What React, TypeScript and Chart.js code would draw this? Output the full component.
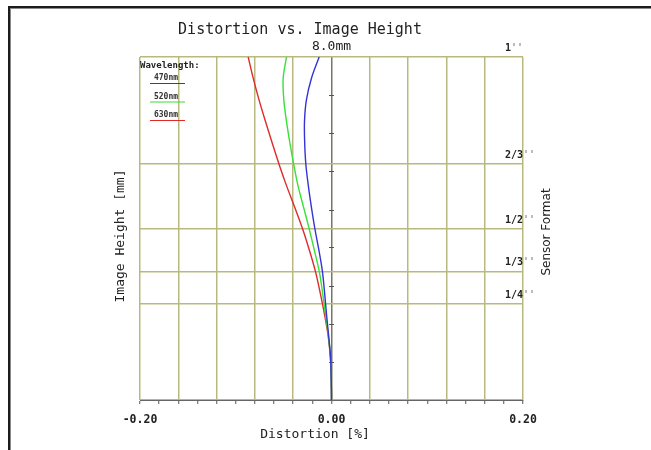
import React, { useEffect, useRef } from "react";
import { Chart, registerables } from "chart.js";

Chart.register(...registerables);

// Image height (mm) samples
const heights = [0, 0.5, 1, 1.5, 2, 2.5, 3, 3.5, 4, 4.5, 5, 5.5, 6, 6.5, 7, 7.5, 8];
// Distortion (%) per wavelength
const dist470 = [0, -0.0003, -0.001, -0.003, -0.0052, -0.0072, -0.0095, -0.0132, -0.0174, -0.021, -0.0242, -0.0268, -0.028, -0.0282, -0.0262, -0.021, -0.0129];
const dist520 = [0, -0.0003, -0.0011, -0.0033, -0.0063, -0.0093, -0.0128, -0.018, -0.0234, -0.0292, -0.035, -0.0395, -0.0435, -0.047, -0.0498, -0.0505, -0.047];
const dist630 = [0, -0.0003, -0.0012, -0.0035, -0.0073, -0.0118, -0.0168, -0.0232, -0.0303, -0.0385, -0.047, -0.0548, -0.062, -0.069, -0.0757, -0.0817, -0.087];

const seriesLabels = ["470nm", "520nm", "630nm"];
const seriesColors = ["#3434d6", "#38e038", "#e02a2a"];

// X axis ticks (every 0.02) and labelled ticks
const xTicks = [-0.2, -0.18, -0.16, -0.14, -0.12, -0.1, -0.08, -0.06, -0.04, -0.02, 0, 0.02, 0.04, 0.06, 0.08, 0.1, 0.12, 0.14, 0.16, 0.18, 0.2];
const xLabelled = [-0.2, 0, 0.2];

// Sensor formats (half diagonal in mm)
const sensorHeights = [0, 2.25, 3, 4, 5.5, 8];
const sensorLabels = ["", "1/4''", "1/3''", "1/2''", "2/3''", "1''"];

// small tick marks on the centre axis (mm)
const centerTicks = [0.89, 1.78, 2.67, 3.56, 4.44, 5.33, 6.22, 7.11];

const MONO = '"DejaVu Sans Mono", monospace';
const SANS = '"DejaVu Sans", sans-serif';
const OLIVE = "#b9b97f";

const decor = {
  id: "decor",
  beforeDatasetsDraw(chart: any) {
    const { ctx } = chart;
    const xs = chart.scales.x;
    const ys = chart.scales.y;
    const x0 = xs.getPixelForValue(0);
    ctx.save();
    ctx.strokeStyle = "#555";
    ctx.lineWidth = 1;
    centerTicks.forEach((v) => {
      const py = Math.round(ys.getPixelForValue(v)) + 0.5;
      ctx.beginPath();
      ctx.moveTo(x0 - 2.5, py);
      ctx.lineTo(x0 + 2.5, py);
      ctx.stroke();
    });
    ctx.restore();
  },
  afterDraw(chart: any) {
    const { ctx } = chart;
    const xs = chart.scales.x;
    const ys = chart.scales.y;
    ctx.save();
    ctx.fillStyle = "#222";
    ctx.textAlign = "center";
    ctx.textBaseline = "middle";

    // Title
    ctx.font = `15px ${MONO}`;
    ctx.fillText("Distortion vs. Image Height", 300, 30);

    // max height
    ctx.font = `13px ${MONO}`;
    ctx.fillText(ys.max.toFixed(1) + "mm", xs.getPixelForValue(0), 47);

    // axis titles
    ctx.fillText("Distortion [%]", 315, 435);
    ctx.save();
    ctx.translate(121, 236);
    ctx.rotate(-Math.PI / 2);
    ctx.fillText("Image Height [mm]", 0, 0);
    ctx.restore();

    ctx.save();
    ctx.font = `12px ${SANS}`;
    ctx.translate(547, 232);
    ctx.rotate(-Math.PI / 2);
    ctx.fillText("Sensor Format", 0, 0);
    ctx.restore();

    // sensor labels
    ctx.font = `bold 10px ${MONO}`;
    ctx.textAlign = "left";
    sensorLabels.forEach((lab, i) => {
      if (!lab) return;
      const py = ys.getPixelForValue(sensorHeights[i]) - 8.5;
      const k = lab.indexOf("'");
      const main = lab.slice(0, k);
      const rest = lab.slice(k);
      ctx.fillStyle = "#222";
      ctx.fillText(main, 505, py);
      const w = ctx.measureText(main).width;
      ctx.fillStyle = "#999";
      ctx.fillText(rest, 505 + w, py);
    });

    // legend
    ctx.fillStyle = "#222";
    ctx.font = `bold 9px ${MONO}`;
    ctx.fillText("Wavelength:", 140, 66);
    ctx.font = `bold 8px ${MONO}`;
    ctx.textAlign = "center";
    seriesLabels.forEach((lab, i) => {
      const cy = 78 + i * 18.5;
      ctx.fillStyle = "#333";
      ctx.fillText(lab, 166, cy);
      ctx.strokeStyle = seriesColors[i];
      ctx.lineWidth = 1.2;
      ctx.beginPath();
      ctx.moveTo(150, cy + 5.5);
      ctx.lineTo(185, cy + 5.5);
      ctx.stroke();
    });
    ctx.restore();
  },
};

export default function App() {
  const ref = useRef<HTMLCanvasElement | null>(null);
  useEffect(() => {
    if (!ref.current) return;
    const series = [dist470, dist520, dist630];
    const chart = new Chart(ref.current, {
      type: "scatter",
      data: {
        datasets: series.map((s, i) => ({
          label: seriesLabels[i],
          data: s.map((d, j) => ({ x: d, y: heights[j] })),
          showLine: true,
          borderColor: seriesColors[i],
          backgroundColor: seriesColors[i],
          borderWidth: 1.4,
          pointRadius: 0,
          tension: 0.35,
        })),
      },
      options: {
        responsive: false,
        animation: false,
        layout: { padding: { left: 140, right: 128, top: 57, bottom: 0 } },
        plugins: { legend: { display: false }, tooltip: { enabled: false }, title: { display: false } },
        scales: {
          x: {
            type: "linear",
            min: -0.2,
            max: 0.2,
            afterBuildTicks: (s: any) => {
              s.ticks = xTicks.map((v) => ({ value: v }));
            },
            afterFit: (s: any) => {
              s.height = 50;
            },
            ticks: {
              autoSkip: false,
              maxRotation: 0,
              padding: 9,
              color: "#222",
              font: { family: MONO, size: 11.5, weight: "bold" },
              callback: (v: any) => {
                const n = Number(v);
                return xLabelled.some((l) => Math.abs(l - n) < 1e-9) ? n.toFixed(2) : "";
              },
            },
            grid: {
              color: (c: any) => {
                const v = c.tick ? c.tick.value : 0;
                const k = Math.round(v / 0.02);
                if (k === 0) return "#77775e";
                return k % 2 === 0 ? OLIVE : "rgba(0,0,0,0)";
              },
              lineWidth: 1.5,
              tickColor: "#555",
              tickLength: 4,
              tickWidth: 1,
            },
            border: { display: true, color: "#666", width: 1 },
          },
          y: {
            type: "linear",
            min: 0,
            max: 8,
            afterBuildTicks: (s: any) => {
              s.ticks = sensorHeights.map((v) => ({ value: v }));
            },
            afterFit: (s: any) => {
              s.width = 0;
            },
            ticks: { display: false },
            grid: { color: OLIVE, lineWidth: 1.5, drawTicks: false },
            border: { display: false },
          },
        },
      },
      plugins: [decor],
    } as any);
    return () => chart.destroy();
  }, []);

  return (
    <div style={{ position: "absolute", left: 0, top: 0, width: 651, height: 450, background: "#fff" }}>
      <canvas ref={ref} width={651} height={450} style={{ position: "absolute", left: 0, top: 0 }} />
      <div
        style={{
          position: "absolute",
          left: 8,
          top: 6,
          width: 643,
          height: 444,
          boxSizing: "border-box",
          borderTop: "2px solid #1c1c1c",
          borderLeft: "2px solid #1c1c1c",
          boxShadow: "inset 1px 1px 0 #8a8a8a",
          pointerEvents: "none",
        }}
      />
    </div>
  );
}
